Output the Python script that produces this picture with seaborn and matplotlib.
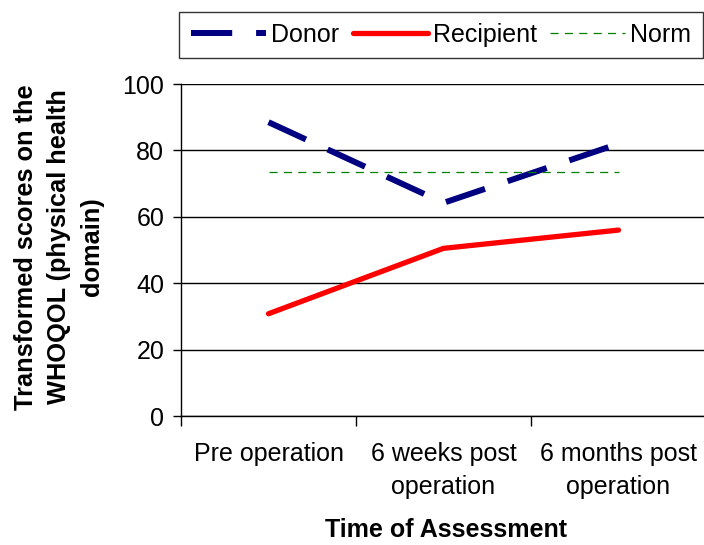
import matplotlib
matplotlib.use("Agg")
import matplotlib.pyplot as plt
import seaborn as sns
from matplotlib.ticker import FixedLocator

categories = ["Pre operation", "6 weeks post\noperation", "6 months post\noperation"]
donor = [88.5, 64.2, 82.0]
recipient = [30.8, 50.5, 56.0]
norm = [73.5, 73.5, 73.5]
yticks = [0, 20, 40, 60, 80, 100]

sns.set_theme(style="white")
plt.rcParams['font.family'] = ['Liberation Sans', 'DejaVu Sans']

fig = plt.figure(figsize=(7.04, 5.45), dpi=100)
ax = fig.add_axes([181/704, 1-416/545, 525/704, 332/545])
x = list(range(len(categories)))

sns.lineplot(x=x, y=donor, ax=ax, color="#000080", lw=4.3, label="Donor")
ax.lines[-1].set_dashes((6.9, 4.0))
ax.lines[-1].set_dash_capstyle("butt")
sns.lineplot(x=x, y=recipient, ax=ax, color="#FF0000", lw=3.8, label="Recipient",
             solid_capstyle="round")
sns.lineplot(x=x, y=norm, ax=ax, color="#008000", lw=0.9, label="Norm")
ax.lines[-1].set_dashes((6.5, 5.0))

ax.set_xlim(-0.5, 2.5)
ax.set_ylim(0, 100)
ax.set_yticks(yticks)
ax.set_xticks(x)
ax.set_xticklabels(categories, fontsize=18, linespacing=1.45)
ax.xaxis.set_minor_locator(FixedLocator([-0.5, 0.5, 1.5, 2.5]))
ax.tick_params(axis='x', which='major', length=0, pad=19)
ax.tick_params(axis='x', which='minor', length=7, width=1, color='black', direction='out', bottom=True)
ax.tick_params(axis='y', which='major', length=6, width=1, color='black', direction='out', left=True, pad=6, labelsize=18)
for lbl in ax.get_yticklabels():
    lbl.set_color('black')
for lbl in ax.get_xticklabels():
    lbl.set_color('black')

ax.yaxis.grid(True, color='black', lw=1)
ax.xaxis.grid(False)
for s in ['top', 'right']:
    ax.spines[s].set_visible(False)
for s in ['left', 'bottom']:
    ax.spines[s].set_color('black')
    ax.spines[s].set_linewidth(1)
ax.set_xlabel("")
ax.set_ylabel("")

fig.text(59/704, 1-247/545, "Transformed scores on the\nWHOQOL (physical health\ndomain)",
         rotation=90, ha='center', va='center', multialignment='center',
         fontsize=18.3, fontweight='bold', color='black', linespacing=1.45)
fig.text(446/704, 1-530/545, "Time of Assessment", ha='center', va='center',
         fontsize=18, fontweight='bold', color='black')

leg = ax.legend(loc='center', bbox_to_anchor=(441/704, 1-35/545), bbox_transform=fig.transFigure,
                ncol=3, frameon=True, fancybox=False, edgecolor='black', handlelength=3,
                handletextpad=0.2, columnspacing=0.55, fontsize=18, borderpad=0.45,
                borderaxespad=0)
leg.get_frame().set_linewidth(1.0)
for t in leg.get_texts():
    t.set_color('black')

fig.savefig("out.png", dpi=100)
